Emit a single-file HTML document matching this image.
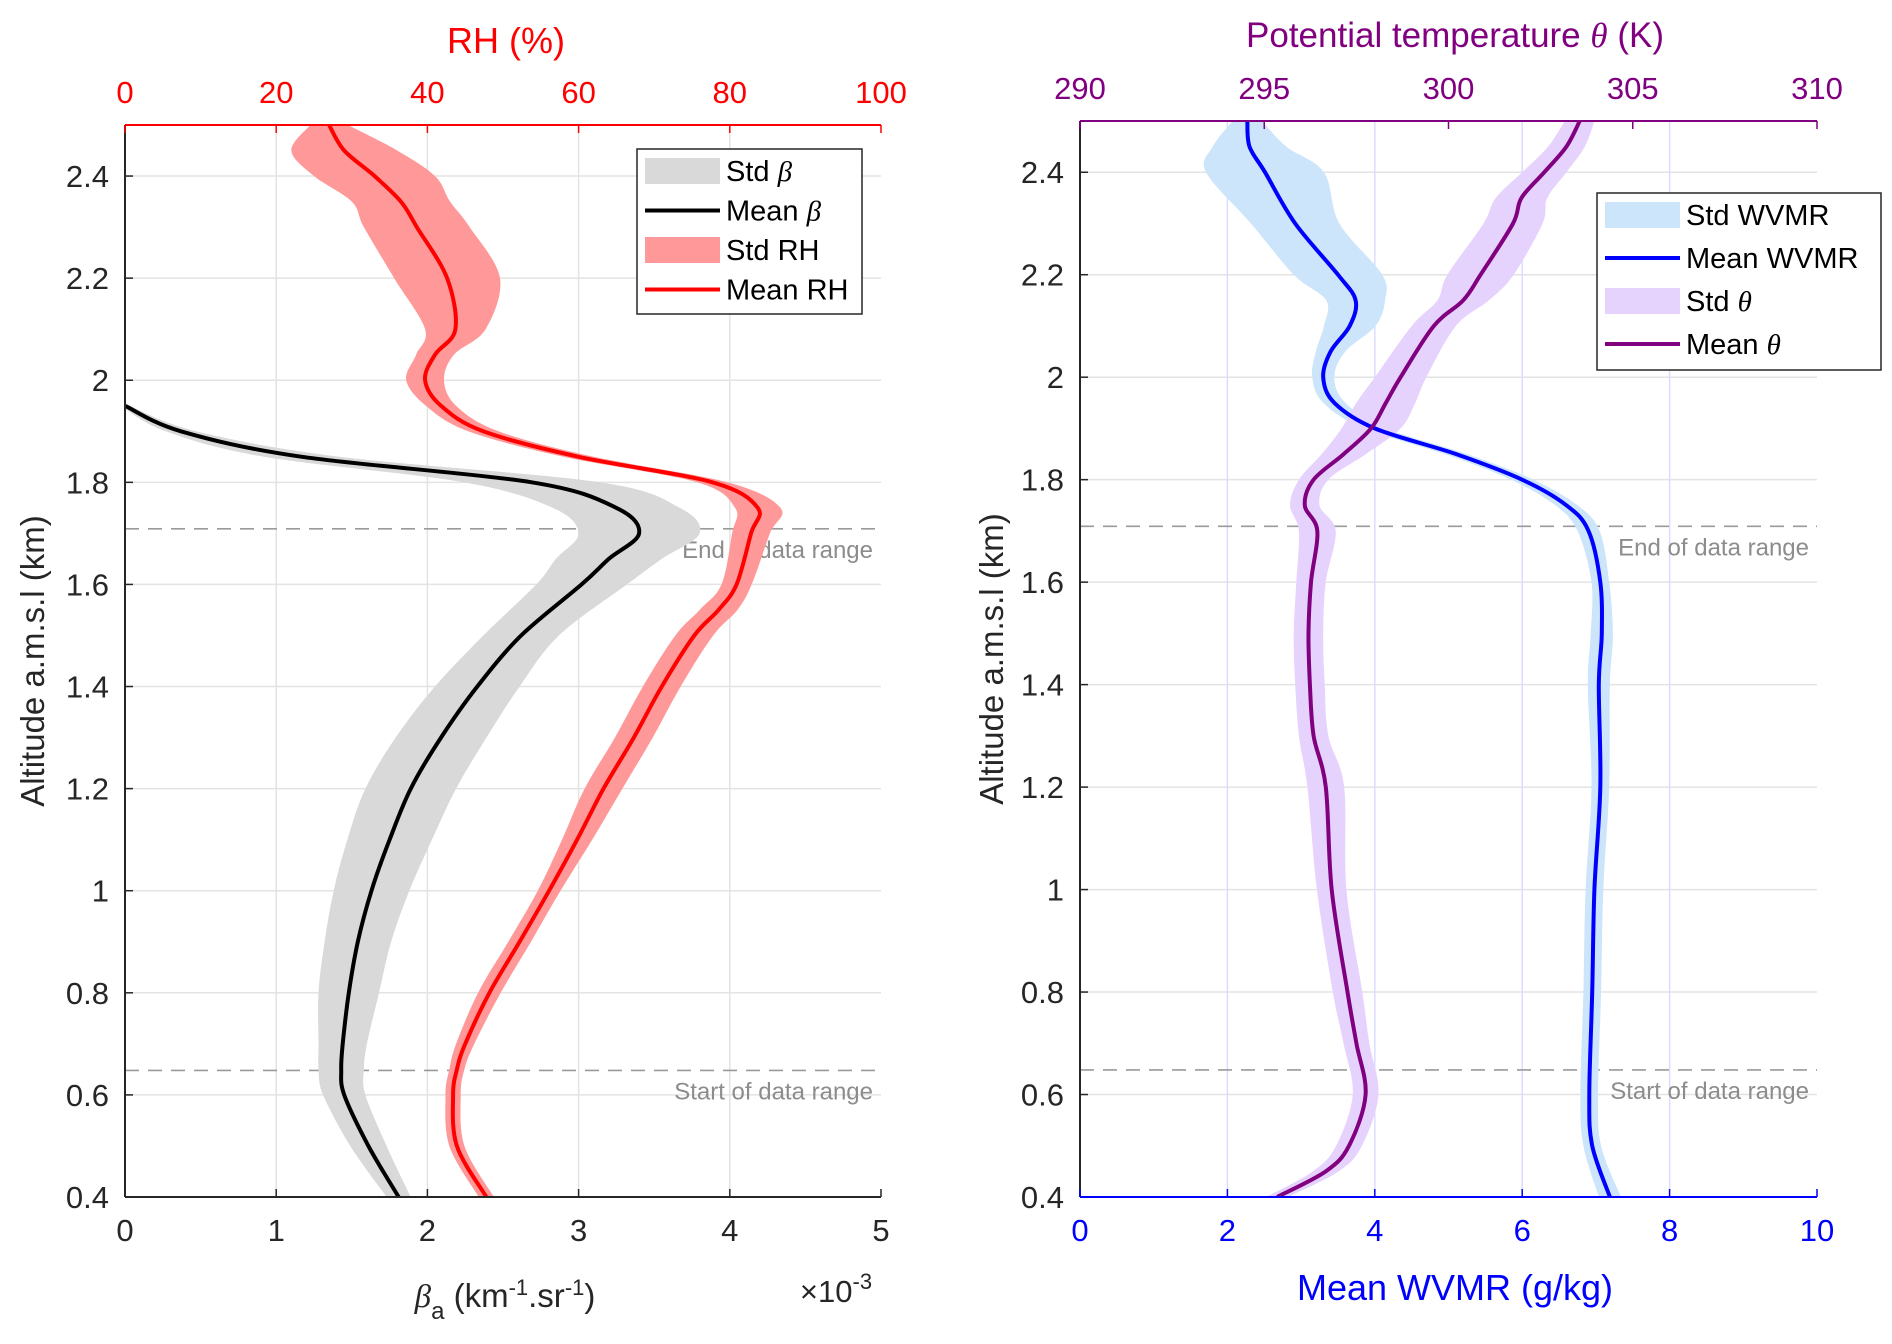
<!DOCTYPE html>
<html><head><meta charset="utf-8"><style>
body{margin:0;background:#fff;}
svg text{font-family:"Liberation Sans",sans-serif;}
</style></head><body>
<svg id="fig" width="1892" height="1339" xmlns="http://www.w3.org/2000/svg"></svg>
<script>
// ---------- Left panel data ----------
const altBeta = [0.4,0.5,0.6,0.65,0.7,0.8,0.9,1.0,1.1,1.2,1.3,1.4,1.5,1.6,1.65,1.7,1.75,1.8,1.85,1.9,1.95];
const meanBeta = [1.81,1.61,1.45,1.43,1.44,1.48,1.54,1.63,1.75,1.89,2.09,2.33,2.62,3.02,3.2,3.40,3.25,2.69,1.17,0.37,0.0];
const stdBeta = [0.08,0.12,0.14,0.15,0.16,0.2,0.22,0.25,0.28,0.3,0.3,0.28,0.25,0.3,0.35,0.4,0.42,0.45,0.25,0.1,0.03];
const altRH = [0.4,0.5,0.6,0.65,0.7,0.8,0.9,1.0,1.1,1.2,1.3,1.4,1.5,1.55,1.6,1.7,1.75,1.8,1.85,1.9,1.95,2.0,2.05,2.1,2.2,2.3,2.35,2.4,2.45,2.5];
const meanRH = [47.8,43.9,43.4,43.9,45,48.2,52.2,56.1,59.8,63.3,67.3,71,75.3,78.5,80.9,82.8,83.7,77.7,60,47.4,41.8,39.7,41,43.7,42.6,38.6,36.5,33,29,27];
const stdRH = [1,1,1,1,1.2,1.5,1.5,1.5,2,2.5,2.5,2.5,2.5,2.5,2,2.5,3,2,2,2,2,2.5,2.5,4,7,7,6.5,8,7,2.5];
const betaTicks = [0,1,2,3,4,5];
const rhTicks = [0,20,40,60,80,100];
const altTicks = [0.4,0.6,0.8,1,1.2,1.4,1.6,1.8,2,2.2,2.4];
const altTickLabels = ["0.4","0.6","0.8","1","1.2","1.4","1.6","1.8","2","2.2","2.4"];
const dataRange = [0.648,1.709];
// ---------- Right panel data ----------
const altW = [0.4,0.5,0.6,0.8,1.0,1.2,1.4,1.5,1.6,1.7,1.75,1.8,1.85,1.9,1.95,2.0,2.05,2.1,2.15,2.2,2.3,2.4,2.45,2.5];
const meanW = [7.19,6.95,6.91,6.95,6.98,7.06,7.04,7.08,7.06,6.9,6.6,6.0,5.1,4.0,3.45,3.3,3.4,3.66,3.74,3.5,2.92,2.51,2.3,2.27];
const stdW = [0.15,0.12,0.12,0.12,0.12,0.12,0.15,0.15,0.12,0.15,0.15,0.15,0.15,0.15,0.15,0.15,0.2,0.35,0.4,0.6,0.6,0.8,0.5,0.2];
const altT = [0.4,0.45,0.5,0.6,0.7,0.8,1.0,1.2,1.3,1.4,1.5,1.6,1.7,1.75,1.8,1.85,1.9,1.95,2.0,2.1,2.15,2.2,2.3,2.35,2.4,2.45,2.5];
const meanT = [295.35,296.67,297.3,297.75,297.5,297.26,296.83,296.67,296.34,296.24,296.2,296.27,296.44,296.1,296.34,297.16,297.9,298.3,298.7,299.6,300.4,300.87,301.75,301.98,302.6,303.2,303.56];
const stdT = [0.3,0.35,0.35,0.35,0.35,0.4,0.4,0.5,0.4,0.4,0.4,0.4,0.5,0.4,0.4,0.6,0.8,0.8,0.7,0.6,0.7,0.9,0.8,0.7,0.6,0.5,0.4];
const wTicks = [0,2,4,6,8,10];
const tTicks = [290,295,300,305,310];

const NS="http://www.w3.org/2000/svg";
const svg=document.getElementById('fig');
function mk(tag,attrs,parent,name,inter){const e=document.createElementNS(NS,tag);for(const k in attrs)e.setAttribute(k,attrs[k]);
 
 
 (parent||svg).appendChild(e);return e;}
function txt(s,x,y,attrs,name){const t=mk('text',Object.assign({x:x,y:y},attrs),svg,name,false);t.textContent=s;return t;}
function smooth(pts){let d='M'+pts[0][0]+','+pts[0][1];
 for(let i=0;i<pts.length-1;i++){const p0=pts[Math.max(0,i-1)],p1=pts[i],p2=pts[i+1],p3=pts[Math.min(pts.length-1,i+2)];
  const c1=[p1[0]+(p2[0]-p0[0])/6,p1[1]+(p2[1]-p0[1])/6],c2=[p2[0]-(p3[0]-p1[0])/6,p2[1]-(p3[1]-p1[1])/6];
  d+=' C'+c1[0].toFixed(1)+','+c1[1].toFixed(1)+' '+c2[0].toFixed(1)+','+c2[1].toFixed(1)+' '+p2[0].toFixed(1)+','+p2[1].toFixed(1);}
 return d;}
function bandPath(alts,mean,std,sx,sy){const L=alts.map((a,i)=>[sx(mean[i]-std[i]),sy(a)]);const R=alts.map((a,i)=>[sx(mean[i]+std[i]),sy(a)]).reverse();
 return smooth(L)+' L'+smooth(R).slice(1)+' Z';}
function linePath(alts,mean,sx,sy){return smooth(alts.map((a,i)=>[sx(mean[i]),sy(a)]));}

function panel(o){
 const sy=a=>o.y1-(a-0.4)/(2.1)*(o.y1-o.y0);
 const clip=mk('clipPath',{id:o.id+'clip'},svg,o.id+'-clip',false);
 mk('rect',{x:o.x0,y:o.y0,width:o.x1-o.x0,height:o.y1-o.y0},clip,o.id+'-clip-rect',false);
 altTicks.forEach((a,i)=>{mk('line',{x1:o.x0,x2:o.x1,y1:sy(a),y2:sy(a),stroke:'#e3e3e3','stroke-width':1.5},svg,o.id+'-hgrid',false);
  mk('line',{x1:o.x0,x2:o.x0+8,y1:sy(a),y2:sy(a),stroke:'#262626','stroke-width':1.5},svg,o.id+'-ytick',false);
  txt(altTickLabels[i],o.x0-16,sy(a)+11,{'font-size':31,'text-anchor':'end',fill:'#262626'},o.id+'-ytick-label');});
 o.vgrid.forEach(x=>mk('line',{x1:x,x2:x,y1:o.y0,y2:o.y1,stroke:o.vgridColor,'stroke-width':1.5},svg,o.id+'-vgrid',false));
 dataRange.forEach((a,i)=>{mk('line',{x1:o.x0,x2:o.x1,y1:sy(a),y2:sy(a),stroke:'#9a9a9a','stroke-width':1.6,'stroke-dasharray':'14,9'},svg,i?'end-data-range-line':'start-data-range-line',false);
  txt(i?'End of data range':'Start of data range',o.x1-8,sy(a)+29,{'font-size':24,'text-anchor':'end',fill:'#8c8c8c'},i?'end-data-range-label':'start-data-range-label');});
 const g=mk('g',{'clip-path':'url(#'+o.id+'clip)'},svg,o.id+'-series',false);
 o.series.forEach(s=>{
  mk('path',{d:bandPath(s.alt,s.mean,s.std,s.sx,sy),fill:s.band,stroke:'none'},g,s.name+'-std-band',false);});
 o.series.forEach(s=>{
  mk('path',{d:linePath(s.alt,s.mean,s.sx,sy),fill:'none',stroke:s.color,'stroke-width':4},g,s.name+'-mean-line',false);});
 mk('line',{x1:o.x0,x2:o.x0,y1:o.y0,y2:o.y1,stroke:'#262626','stroke-width':2},svg,o.id+'-y-axis',false);
 mk('line',{x1:o.x0,x2:o.x1,y1:o.y1,y2:o.y1,stroke:o.botColor,'stroke-width':2},svg,o.id+'-bottom-axis',false);
 mk('line',{x1:o.x0,x2:o.x1,y1:o.y0,y2:o.y0,stroke:o.topColor,'stroke-width':2},svg,o.id+'-top-axis',false);
 o.botTicks.forEach(t=>{const x=o.bx(t);mk('line',{x1:x,x2:x,y1:o.y1,y2:o.y1-8,stroke:o.botColor,'stroke-width':1.5},svg,o.id+'-xtick',false);
  txt(String(t),x,o.y1+44,{'font-size':31,'text-anchor':'middle',fill:o.botColor},o.id+'-xtick-label');});
 o.topTicks.forEach(t=>{const x=o.tx(t);mk('line',{x1:x,x2:x,y1:o.y0,y2:o.y0+8,stroke:o.topColor,'stroke-width':1.5},svg,o.id+'-top-tick',false);
  txt(String(t),x,o.y0-22,{'font-size':31,'text-anchor':'middle',fill:o.topColor},o.id+'-top-tick-label');});
 txt('Altitude a.m.s.l (km)',0,0,{'font-size':33,'text-anchor':'middle',fill:'#262626',transform:'translate('+o.ylx+','+((o.y0+o.y1)/2)+') rotate(-90)'},o.id+'-y-axis-title');
 const L=o.legend;mk('rect',{x:L.x,y:L.y,width:L.w,height:L.h,fill:'#fff',stroke:'#262626','stroke-width':1.5},svg,o.id+'-legend',false);
 L.items.forEach((it,i)=>{const yy=L.y+22+i*L.step;
  if(it.band)mk('rect',{x:L.x+8,y:yy-13,width:L.sw,height:26,fill:it.band},svg,'legend-swatch',false);
  else mk('line',{x1:L.x+8,x2:L.x+8+L.sw,y1:yy,y2:yy,stroke:it.color,'stroke-width':4},svg,'legend-swatch',false);
  const t=txt('',L.x+L.sw+14,yy+10,{'font-size':29,fill:'#000'},'legend-entry');t.innerHTML=it.label;});
}
const lx=b=>125+b*(881-125)/5, rhx=r=>125+r*(881-125)/100;
panel({id:'left',x0:125,x1:881,y0:125,y1:1197,vgrid:betaTicks.slice(1,5).map(lx),vgridColor:'#e3e3e3',
 topColor:'#ff0000',botColor:'#262626',botTicks:betaTicks,bx:lx,topTicks:rhTicks,tx:rhx,ylx:44,
 series:[{name:'beta',alt:altBeta,mean:meanBeta,std:stdBeta,sx:lx,color:'#000',band:'#d9d9d9'},
         {name:'rh',alt:altRH,mean:meanRH,std:stdRH,sx:rhx,color:'#ff0000',band:'#ff9999'}],
 legend:{x:637,y:149,w:225,h:165,step:39.5,sw:75,items:[{band:'#d9d9d9',label:'Std <tspan font-family="Liberation Serif" font-style="italic">β</tspan>'},{color:'#000',label:'Mean <tspan font-family="Liberation Serif" font-style="italic">β</tspan>'},{band:'#ff9999',label:'Std RH'},{color:'#ff0000',label:'Mean RH'}]}});
const wx=w=>1080+w*(1817-1080)/10, tx=t=>1080+(t-290)*(1817-1080)/20;
panel({id:'right',x0:1080,x1:1817,y0:121,y1:1197,vgrid:wTicks.slice(1,5).map(wx),vgridColor:'#dcdcff',
 topColor:'#800080',botColor:'#0000ff',botTicks:wTicks,bx:wx,topTicks:tTicks,tx:tx,ylx:1003,
 series:[{name:'wvmr',alt:altW,mean:meanW,std:stdW,sx:wx,color:'#0000ff',band:'#cce5fb'},
         {name:'theta',alt:altT,mean:meanT,std:stdT,sx:tx,color:'#800080',band:'#e6d3fd'}],
 legend:{x:1597,y:193,w:284,h:177,step:43,sw:75,items:[{band:'#cce5fb',label:'Std WVMR'},{color:'#0000ff',label:'Mean WVMR'},{band:'#e6d3fd',label:'Std <tspan font-family="Liberation Serif" font-style="italic">θ</tspan>'},{color:'#800080',label:'Mean <tspan font-family="Liberation Serif" font-style="italic">θ</tspan>'}]}});
txt('RH (%)',506,53,{'font-size':36,'text-anchor':'middle',fill:'#ff0000'},'rh-axis-title');
const pt=txt('',1455,47,{'font-size':35,'text-anchor':'middle',fill:'#800080'},'theta-axis-title');
pt.innerHTML='Potential temperature <tspan font-family="Liberation Serif" font-style="italic">θ</tspan> (K)';
txt('Mean WVMR (g/kg)',1455,1300,{'font-size':36,'text-anchor':'middle',fill:'#0000ff'},'wvmr-axis-title');
const bt=txt('',505,1307,{'font-size':33,'text-anchor':'middle',fill:'#262626'},'beta-axis-title');
bt.innerHTML='<tspan font-family="Liberation Serif" font-style="italic">β</tspan><tspan font-size="24" dy="12">a</tspan><tspan dy="-12"> (km</tspan><tspan font-size="22" dy="-12">-1</tspan><tspan dy="12">.sr</tspan><tspan font-size="22" dy="-12">-1</tspan><tspan dy="12">)</tspan>';
const ex=txt('',836,1302,{'font-size':31,'text-anchor':'middle',fill:'#262626'},'beta-exponent');
ex.innerHTML='×10<tspan font-size="22" dy="-13">-3</tspan>';
</script>
</body></html>
